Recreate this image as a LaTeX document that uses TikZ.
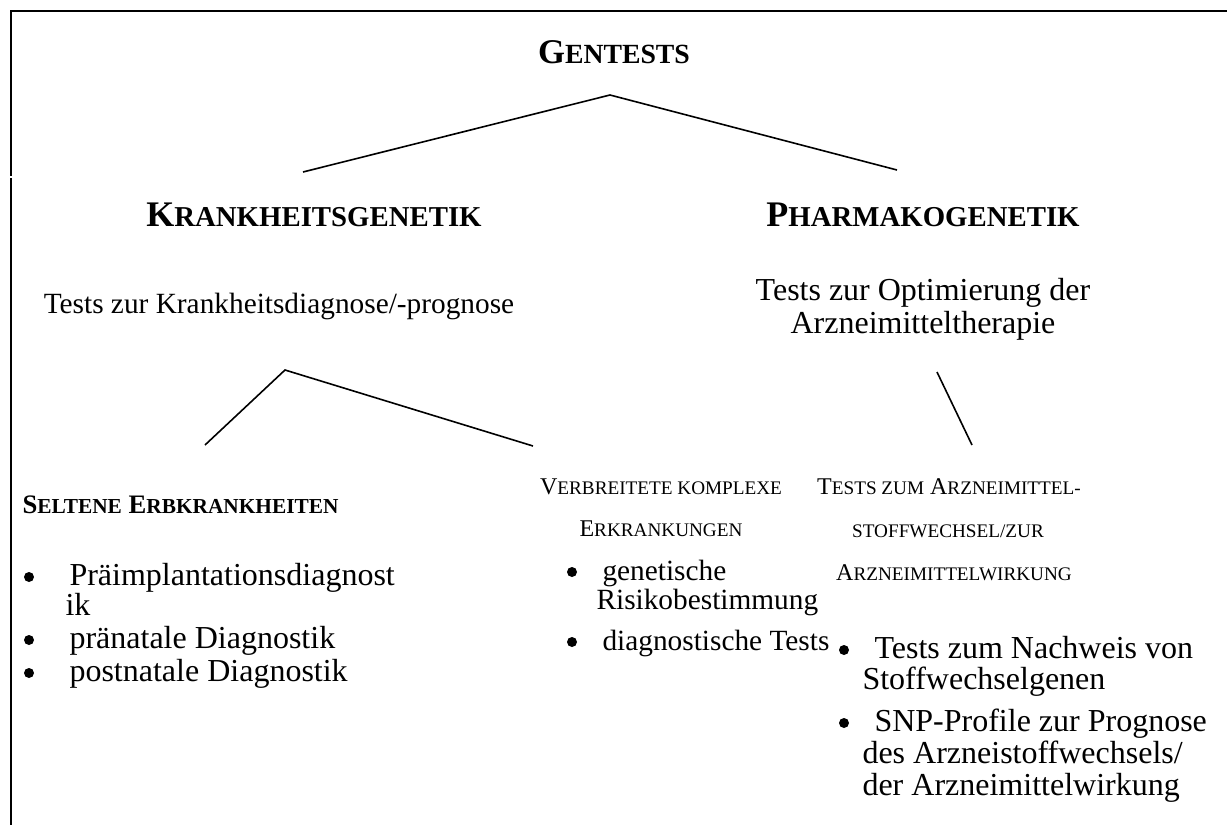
\documentclass[tikz,border=0pt]{standalone}
\usepackage{fontspec}
\setmainfont{Liberation Serif}
\usetikzlibrary{positioning}

\makeatletter
\newcommand\klein[1]{{\fontsize{\fpeval{0.8*\f@size}}{\f@baselineskip}\selectfont #1}}
\makeatother

\tikzset{
  txt/.style={font=\fontsize{12}{13.8}\selectfont, inner sep=0pt},
  kopf/.style={font=\fontsize{13.5}{16}\selectfont\bfseries, inner sep=0pt},
  unterkopf/.style={font=\fontsize{9}{11}\selectfont, inner sep=0pt},
  ast/.style={line width=0.6pt},
  rahmen/.style={line width=0.8pt}
}

\begin{document}
\begin{tikzpicture}[x=0.375pt, y=-0.375pt]
    \useasboundingbox (0,0) rectangle (1227,825);
    % rahmen
    \draw[rahmen] (1227,11) -- (11,11) -- (11,176);
    \draw[rahmen] (11,178) -- (11,825);

    % oberste ebene
    \node[kopf, font=\fontsize{13}{16}\selectfont\bfseries, anchor=base] (gentests) at (614,63) {G\klein{ENTESTS}};
    \node[kopf, anchor=base] (krankgen) at (314,226) {K\klein{RANKHEITSGENETIK}};
    \node[kopf, anchor=base] (pharmgen) at (923,226) {P\klein{HARMAKOGENETIK}};
    \coordinate (gspitze) at (610,95);
    \coordinate (glinks) at (303,172);
    \coordinate (grechts) at (897,170);
    \draw[ast] (glinks) -- (gspitze) -- (grechts);

    \node[txt, font=\fontsize{11}{13}\selectfont, anchor=base] (krankdiag) at (279,313) {Tests zur Krankheitsdiagnose/-prognose};
    \node[txt, anchor=base] (optim) at (923,300) {Tests zur Optimierung der};
    \node[txt, anchor=base] (optimb) at (923,333) {Arzneimitteltherapie};

    \coordinate (kspitze) at (285,370);
    \coordinate (klinks) at (205,445);
    \coordinate (krechts) at (533,446);
    \draw[ast] (klinks) -- (kspitze) -- (krechts);
    \coordinate (poben) at (937,372);
    \coordinate (punten) at (972,445);
    \draw[ast] (poben) -- (punten);

    % seltene erbkrankheiten
    \node[unterkopf, font=\fontsize{10}{12}\selectfont\bfseries, anchor=base west] (selten) at (22,513) {S\klein{ELTENE} E\klein{RBKRANKHEITEN}};
    \fill (29,577) circle (5);
    \fill (29,640) circle (5);
    \fill (29,673) circle (5);
    \node[txt, anchor=base west] (praeimpl) at (69,585) {Präimplantationsdiagnost};
    \node[txt, anchor=base west] (praeimplb) at (65,615) {ik};
    \node[txt, anchor=base west] (praenat) at (69,648) {pränatale Diagnostik};
    \node[txt, anchor=base west] (postnat) at (69,681) {postnatale Diagnostik};

    % verbreitete erkrankungen
    \node[unterkopf, anchor=base] (verbr) at (661,494) {V\klein{ERBREITETE KOMPLEXE}};
    \node[unterkopf, anchor=base] (verbrb) at (661,536) {E\klein{RKRANKUNGEN}};
    \fill (572,572) circle (5);
    \fill (572,642) circle (5);
    \node[txt, font=\fontsize{11}{13}\selectfont, anchor=base west] (risiko) at (602,580) {genetische};
    \node[txt, font=\fontsize{11}{13}\selectfont, anchor=base west] (risikob) at (596,609) {Risikobestimmung};
    \node[txt, font=\fontsize{11}{13}\selectfont, anchor=base west] (diagtest) at (602,650) {diagnostische Tests};

    % arzneimittel
    \node[unterkopf, anchor=base] (arznei) at (949,494) {T\klein{ESTS ZUM} A\klein{RZNEIMITTEL-}};
    \node[unterkopf, anchor=base] (arzneib) at (948,537) {\klein{STOFFWECHSEL/ZUR}};
    \node[unterkopf, anchor=base] (arzneic) at (954,580) {A\klein{RZNEIMITTELWIRKUNG}};
    \fill (844,650) circle (5);
    \fill (844,723) circle (5);
    \node[txt, anchor=base west] (nachweis) at (874,658) {Tests zum Nachweis von};
    \node[txt, anchor=base west] (nachweisb) at (862,689) {Stoffwechselgenen};
    \node[txt, anchor=base west] (snp) at (874,731) {SNP-Profile zur Prognose};
    \node[txt, anchor=base west] (snpb) at (862,763) {des Arzneistoffwechsels/};
    \node[txt, anchor=base west] (snpc) at (862,795) {der Arzneimittelwirkung};
\end{tikzpicture}
\end{document}
